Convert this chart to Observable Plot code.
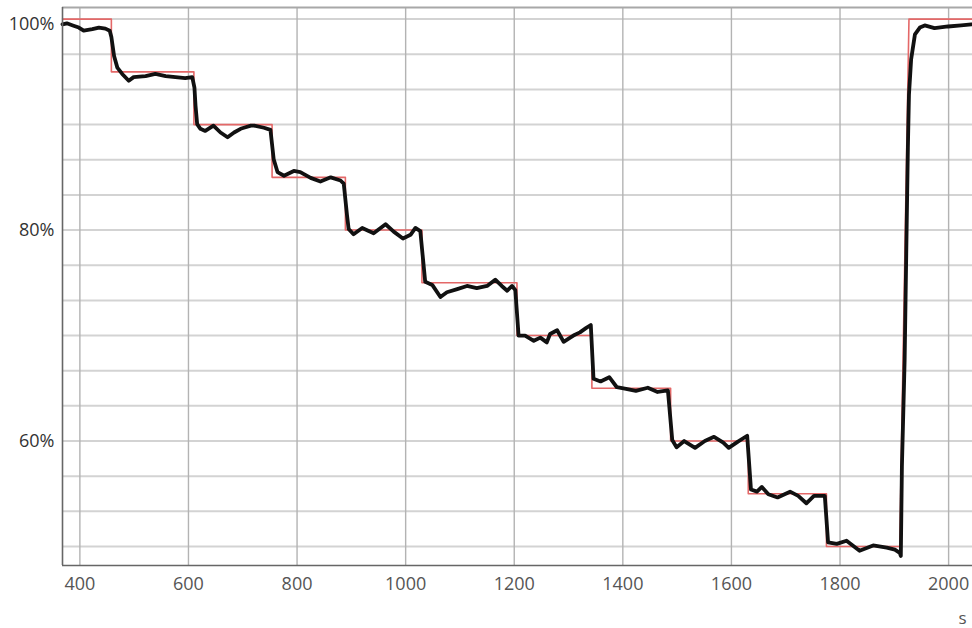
<!DOCTYPE html>
<html>
<head>
<meta charset="utf-8">
<script src="https://cdn.jsdelivr.net/npm/d3@7"></script>
<script src="https://cdn.jsdelivr.net/npm/@observablehq/plot@0.6"></script>
<style>
  body { margin: 0; background: #fff; }
</style>
</head>
<body>
<div id="chart"></div>
<script>
// Setpoint (%), stepped down by 5 % every couple of minutes, then back to 100 %
const setpointTime  = [368, 458, 458, 610, 610, 754, 754, 889, 889, 1030, 1030, 1205, 1205, 1343, 1343, 1488, 1488, 1631, 1631, 1775, 1775, 1910, 1927, 2044];
const setpointLevel = [100, 100, 95, 95, 90, 90, 85, 85, 80, 80, 75, 75, 70, 70, 65, 65, 60, 60, 55, 55, 50, 50, 100, 100];

// Measured response (%)
const measuredTime = [
  368, 376, 387, 398, 407, 423, 435, 447, 455,
  458, 463, 469, 478, 490, 499, 521, 539, 558, 576, 594, 607,
  611, 613, 616, 622, 631, 646, 659, 672, 684, 696, 702, 715, 721, 739, 751,
  757, 764, 776, 794, 806, 825, 843, 862, 880, 886,
  892, 895, 904, 920, 941, 963, 978, 995, 1009, 1018, 1027,
  1036, 1049, 1064, 1076, 1095, 1113, 1131, 1150, 1165, 1177, 1187, 1196, 1202,
  1208, 1220, 1236, 1248, 1260, 1266, 1279, 1291, 1303, 1309, 1321, 1332, 1341,
  1346, 1359, 1375, 1389, 1406, 1424, 1446, 1464, 1483,
  1491, 1499, 1513, 1533, 1551, 1568, 1585, 1595, 1612, 1629,
  1636, 1647, 1656, 1668, 1685, 1708, 1723, 1738, 1752, 1772,
  1778, 1794, 1812, 1836, 1861, 1886, 1901, 1910, 1912,
  1914, 1919, 1922, 1925, 1927, 1931, 1938, 1947, 1956, 1974, 1999, 2023, 2042
];
const measuredLevel = [
  99.5, 99.6, 99.4, 99.2, 98.9, 99.05, 99.2, 99.1, 98.9,
  98.3, 96.5, 95.4, 94.8, 94.15, 94.5, 94.6, 94.8, 94.6, 94.5, 94.4, 94.5,
  93.5, 91.8, 90.05, 89.6, 89.4, 89.9, 89.25, 88.8, 89.25, 89.6, 89.7, 89.9, 89.9, 89.7, 89.5,
  86.7, 85.5, 85.15, 85.6, 85.5, 84.95, 84.6, 85.0, 84.7, 84.4,
  81.4, 80.1, 79.6, 80.2, 79.7, 80.55, 79.85, 79.2, 79.55, 80.2, 79.9,
  75.1, 74.8, 73.65, 74.1, 74.4, 74.7, 74.5, 74.7, 75.3, 74.7, 74.25, 74.7, 74.3,
  70.0, 70.0, 69.5, 69.8, 69.35, 70.15, 70.5, 69.4, 69.8, 70.0, 70.3, 70.7, 71.0,
  65.9, 65.65, 66.05, 65.1, 64.95, 64.75, 65.05, 64.65, 64.8,
  60.1, 59.4, 60.0, 59.35, 60.0, 60.4, 59.85, 59.35, 59.95, 60.5,
  55.4, 55.2, 55.65, 54.95, 54.65, 55.2, 54.8, 54.1, 54.8, 54.8,
  50.4, 50.25, 50.55, 49.6, 50.1, 49.9, 49.7, 49.4, 49.1,
  57.6, 67.65, 77.75, 87.8, 92.85, 96.2, 98.55, 99.2, 99.4, 99.15, 99.3, 99.4, 99.5
];

// Axis ticks
const xTicks = [400, 600, 800, 1000, 1200, 1400, 1600, 1800, 2000];
const yLabelTicks = [80, 60];
const yTopLabel = [100];
const yGridTicks = [50, 53.333, 56.667, 60, 63.333, 66.667, 70, 73.333, 76.667, 80, 83.333, 86.667, 90, 93.333, 96.667, 100];

const setpoint = setpointTime.map((t, i) => ({t, v: setpointLevel[i]}));
const measured = measuredTime.map((t, i) => ({t, v: measuredLevel[i]}));

const xMin = 368, xMax = 2044, yMin = 48.2, yMax = 101.1;

const chart = Plot.plot({
  width: 972,
  height: 628,
  marginLeft: 62,
  marginRight: 0,
  marginTop: 7,
  marginBottom: 63,
  style: {fontFamily: "'Open Sans', sans-serif", fontSize: "18px", background: "#fff"},
  x: {domain: [xMin, xMax], axis: null},
  y: {domain: [yMin, yMax], axis: null},
  marks: [
    Plot.ruleY(yGridTicks, {stroke: "#d3d3d3", strokeWidth: 2}),
    Plot.ruleX(xTicks, {stroke: "#b3b3b3", strokeWidth: 1.4}),
    Plot.ruleY([yMax], {stroke: "#a8a8a8", strokeWidth: 2}),
    Plot.line(setpoint, {x: "t", y: "v", stroke: "#e46868", strokeWidth: 1.6}),
    Plot.line(measured, {x: "t", y: "v", stroke: "#111", strokeWidth: 3.8, strokeLinejoin: "round"}),
    Plot.ruleX([xMin], {stroke: "#666", strokeWidth: 1.6}),
    Plot.ruleY([yMin], {stroke: "#666", strokeWidth: 1.6}),
    Plot.text(xTicks, {x: d => d, frameAnchor: "bottom", lineAnchor: "top", dy: 12, fill: "#555", fontSize: 18, text: d => String(d)}),
    Plot.text(yLabelTicks, {y: d => d, frameAnchor: "left", textAnchor: "end", dx: -8, fill: "#333", fontSize: 18, text: d => `${d}%`}),
    Plot.text(yTopLabel, {y: d => d, frameAnchor: "left", textAnchor: "end", dx: -8, dy: 5, fill: "#333", fontSize: 18, text: d => `${d}%`}),
    Plot.text(["s"], {frameAnchor: "bottom-right", textAnchor: "end", lineAnchor: "bottom", dx: -6, dy: 58, fill: "#555", fontSize: 17})
  ]
});

document.getElementById("chart").append(chart);
</script>
</body>
</html>
